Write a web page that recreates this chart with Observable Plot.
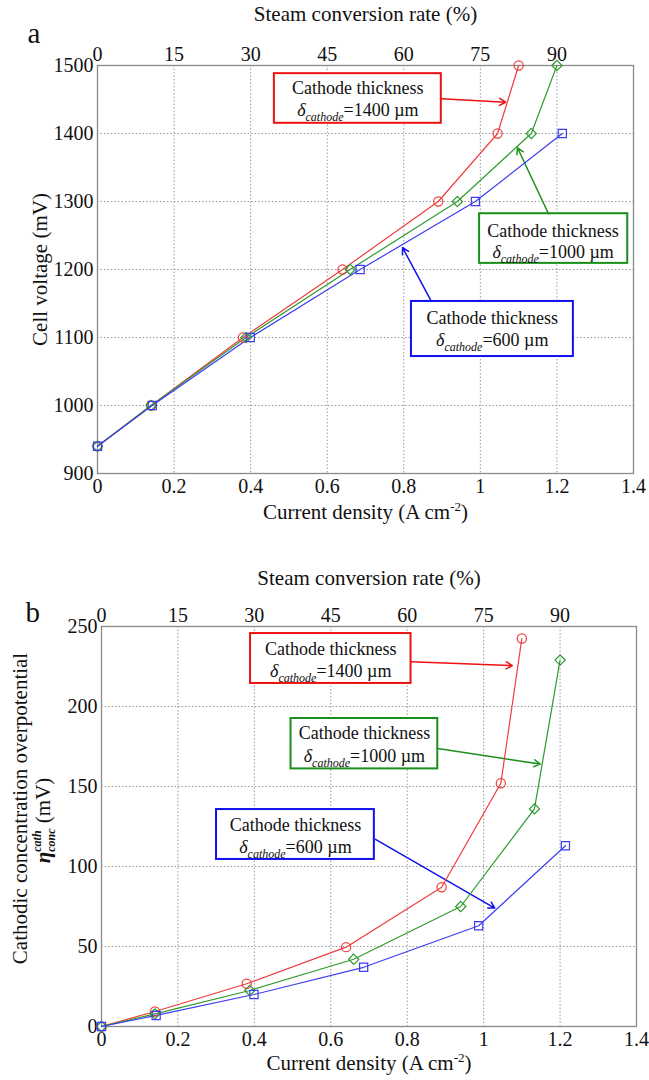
<!DOCTYPE html>
<html><head><meta charset="utf-8">
<script src="https://cdn.jsdelivr.net/npm/d3@7"></script>
<script src="https://cdn.jsdelivr.net/npm/@observablehq/plot@0.6"></script>
<style>
body{margin:0;background:#fff;}
#chart{width:649px;}
#chart svg{display:block;}
#chart svg, #chart svg text, #chart svg tspan{font-family:"Liberation Serif","Times New Roman",serif !important;}
</style></head><body><div id="chart"></div>
<script>
// ---- data ----
const seriesNames = ["1400", "1000", "600"];
const seriesColors = ["#f03c3c", "#2e9b2e", "#3c3cf5"];
const boxColors = ["#ee1111", "#1a8f1a", "#1010ee"];
const seriesSymbols = ["circle", "diamond2", "square"];

// current density (A cm-2)
const j1400 = [0, 0.14, 0.38, 0.64, 0.89, 1.045, 1.10];
const j1000 = [0, 0.14, 0.388, 0.66, 0.94, 1.133, 1.20];
const j600  = [0, 0.143, 0.399, 0.686, 0.987, 1.214];

// cell voltage (mV)
const v1400 = [940, 1000, 1100, 1200, 1300, 1400, 1500];
const v1000 = [940, 1000, 1100, 1200, 1300, 1400, 1500];
const v600  = [940, 1000, 1100, 1200, 1300, 1400];

// cathodic concentration overpotential (mV)
const eta1400 = [0, 9.4, 26.7, 49.6, 87, 152, 242.5];
const eta1000 = [0, 7.9, 22.5, 42, 75, 136, 229];
const eta600  = [0, 6.9, 20, 37, 63, 113];

// ticks
const xTicks = [0, 0.2, 0.4, 0.6, 0.8, 1, 1.2, 1.4];
const convTicks = [0, 15, 30, 45, 60, 75, 90];
const convPerCurrent = 75; // 90 % at 1.2 A cm-2
const voltTicks = [900, 1000, 1100, 1200, 1300, 1400, 1500];
const etaTicks = [0, 50, 100, 150, 200, 250];

// annotations (data coordinates)
const boxLine1 = "Cathode thickness";
const boxLine2 = ["δcathode=1400 µm", "δcathode=1000 µm", "δcathode=600 µm"];
const annA = [
  {x1: 0.462, x2: 0.898, y1: 1415, y2: 1488, tx: 0.68, ty1: 1466, ty2: 1434, ax1: 0.898, ay1: 1451, ax2: 1.066, ay2: 1446},
  {x1: 0.998, x2: 1.385, y1: 1209, y2: 1282, tx: 1.19, ty1: 1257, ty2: 1225, ax1: 1.178, ay1: 1282, ax2: 1.097, ay2: 1379},
  {x1: 0.82, x2: 1.243, y1: 1072, y2: 1153, tx: 1.031, ty1: 1129, ty2: 1096, ax1: 0.872, ay1: 1153, ax2: 0.797, ay2: 1232}
];
const annB = [
  {x1: 0.39, x2: 0.81, y1: 214.4, y2: 245.6, tx: 0.60, ty1: 236, ty2: 222, ax1: 0.81, ay1: 228, ax2: 1.075, ay2: 225.6},
  {x1: 0.496, x2: 0.88, y1: 161, y2: 192.5, tx: 0.688, ty1: 183, ty2: 169, ax1: 0.88, ay1: 173.7, ax2: 1.148, ay2: 164},
  {x1: 0.301, x2: 0.714, y1: 104.4, y2: 135.6, tx: 0.5075, ty1: 126, ty2: 112, ax1: 0.717, ay1: 117, ax2: 1.029, ay2: 74}
];

const jAll = [j1400, j1000, j600];
function rows(yArrays) {
  const out = [];
  seriesNames.forEach((s, i) => jAll[i].forEach((x, k) => out.push({s, x, y: yArrays[i][k]})));
  return out;
}

const fmtX = d => String(+d.toFixed(1));
const fmtY = d => String(d);
const serif = "Liberation Serif, Times New Roman, serif";

function annotationMarks(ann) {
  const marks = [];
  ann.forEach((a, i) => {
    marks.push(Plot.rect([a], {x1: "x1", x2: "x2", y1: "y1", y2: "y2", fill: "white", stroke: boxColors[i], strokeWidth: 2}));
    marks.push(Plot.arrow([a], {x1: "ax1", y1: "ay1", x2: "ax2", y2: "ay2", stroke: boxColors[i], strokeWidth: 1.5, headLength: 7}));
    marks.push(Plot.text([a], {x: "tx", y: "ty1", text: () => boxLine1, fontSize: 18, fontFamily: serif, fill: "#111", lineAnchor: "middle"}));
    marks.push(Plot.text([a], {x: "tx", y: "ty2", text: () => boxLine2[i], fontSize: 18, fontFamily: serif, fill: "#111", lineAnchor: "middle"}));
  });
  return marks;
}

function panel(cfg) {
  const data = rows(cfg.yValues);
  return Plot.plot({
    width: 649, height: cfg.height,
    marginTop: cfg.mt, marginBottom: cfg.mb, marginLeft: cfg.ml, marginRight: cfg.mr,
    style: {fontFamily: serif, fontSize: "20px", color: "#111", background: "#fff"},
    x: {domain: [0, 1.4]},
    y: {domain: cfg.yDomain},
    color: {domain: seriesNames, range: seriesColors},
    symbol: {domain: seriesNames, range: seriesSymbols},
    marks: [
      Plot.gridX({ticks: xTicks, stroke: "#999", strokeOpacity: 1, strokeDasharray: "1.5,2", strokeWidth: 1}),
      Plot.gridY({ticks: cfg.yTicks, stroke: "#999", strokeOpacity: 1, strokeDasharray: "1.5,2", strokeWidth: 1}),
      Plot.frame({stroke: "#8a8a8a", strokeWidth: 1.3}),
      Plot.axisX({ticks: xTicks, anchor: "bottom", tickSize: 0, tickPadding: 5, tickFormat: fmtX, label: null}),
      Plot.axisX({ticks: convTicks.map(c => c / convPerCurrent), anchor: "top", tickSize: 0, tickPadding: 5,
                  tickFormat: d => String(Math.round(d * convPerCurrent)), label: null}),
      Plot.axisY({ticks: cfg.yTicks, anchor: "left", tickSize: 0, tickPadding: 4, tickFormat: fmtY, label: null}),
      ...annotationMarks(cfg.ann),
      Plot.line(data, {x: "x", y: "y", z: "s", stroke: "s", strokeWidth: 1.2}),
      Plot.dot(data, {x: "x", y: "y", symbol: "s", stroke: "s", fill: "none", r: 4.6, strokeWidth: 1.2}),
      Plot.text(["Steam conversion rate (%)"], {frameAnchor: "top", dy: cfg.topTitleDy, lineAnchor: "middle", fontSize: 21}),
      Plot.text(["Current density (A cm-2)"], {frameAnchor: "bottom", dy: cfg.bottomTitleDy, lineAnchor: "middle", fontSize: 21}),
      Plot.text([cfg.letter], {frameAnchor: "top-left", dx: cfg.letterDx, dy: cfg.letterDy, lineAnchor: "middle", fontSize: 29}),
      ...cfg.yTitles.map(t => Plot.text([t.text], {frameAnchor: "left", rotate: -90, textAnchor: "middle", lineAnchor: "middle", dx: t.dx, dy: t.dy, fontSize: 21}))
    ]
  });
}

const chartA = panel({
  height: 540, mt: 65, mb: 67, ml: 97, mr: 16,
  yDomain: [900, 1500], yTicks: voltTicks, yValues: [v1400, v1000, v600], ann: annA,
  letter: "a", letterDx: -70, letterDy: -32, topTitleDy: -51, bottomTitleDy: 39,
  yTitles: [{text: "Cell voltage (mV)", dx: -57, dy: 0}]
});
const chartB = panel({
  height: 540, mt: 86, mb: 54, ml: 101, mr: 13,
  yDomain: [0, 250], yTicks: etaTicks, yValues: [eta1400, eta1000, eta600], ann: annB,
  letter: "b", letterDx: -76, letterDy: -14, topTitleDy: -48, bottomTitleDy: 37,
  yTitles: [{text: "Cathodic concentration overpotential", dx: -81, dy: -18},
            {text: "ηcathconc (mV)", dx: -58, dy: -6}]
});

const root = document.getElementById("chart");
root.append(chartA, chartB);

function richify(svg) {
  d3.select(svg).selectAll("text").each(function () {
    const t = this.textContent;
    const sel = d3.select(this);
    let m;
    if ((m = t.match(/^δcathode(.*)$/))) {
      sel.text(null);
      sel.append("tspan").attr("font-style", "italic").text("δ");
      sel.append("tspan").attr("font-style", "italic").attr("font-size", "12px").attr("dy", "5").text("cathode");
      sel.append("tspan").attr("dy", "-5").text(m[1]);
    } else if (t === "Current density (A cm-2)") {
      sel.text(null);
      sel.append("tspan").text("Current density (A cm");
      sel.append("tspan").attr("font-size", "13px").attr("dy", "-8").text("-2");
      sel.append("tspan").attr("dy", "8").text(")");
    } else if (t === "ηcathconc (mV)") {
      sel.text(null);
      sel.append("tspan").attr("font-style", "italic").attr("font-weight", "bold").text("η");
      const sup = sel.append("tspan").attr("font-style", "italic").attr("font-weight", "bold").attr("font-size", "12px").attr("dy", "-9").text("cath");
      const w = sup.node().getComputedTextLength ? sup.node().getComputedTextLength() : 21;
      sel.append("tspan").attr("font-style", "italic").attr("font-weight", "bold").attr("font-size", "12px").attr("dx", -(w || 21)).attr("dy", "14").text("conc");
      sel.append("tspan").attr("dy", "-5").text(" (mV)");
    }
  });
}
richify(chartA);
richify(chartB);
</script>
</body></html>
